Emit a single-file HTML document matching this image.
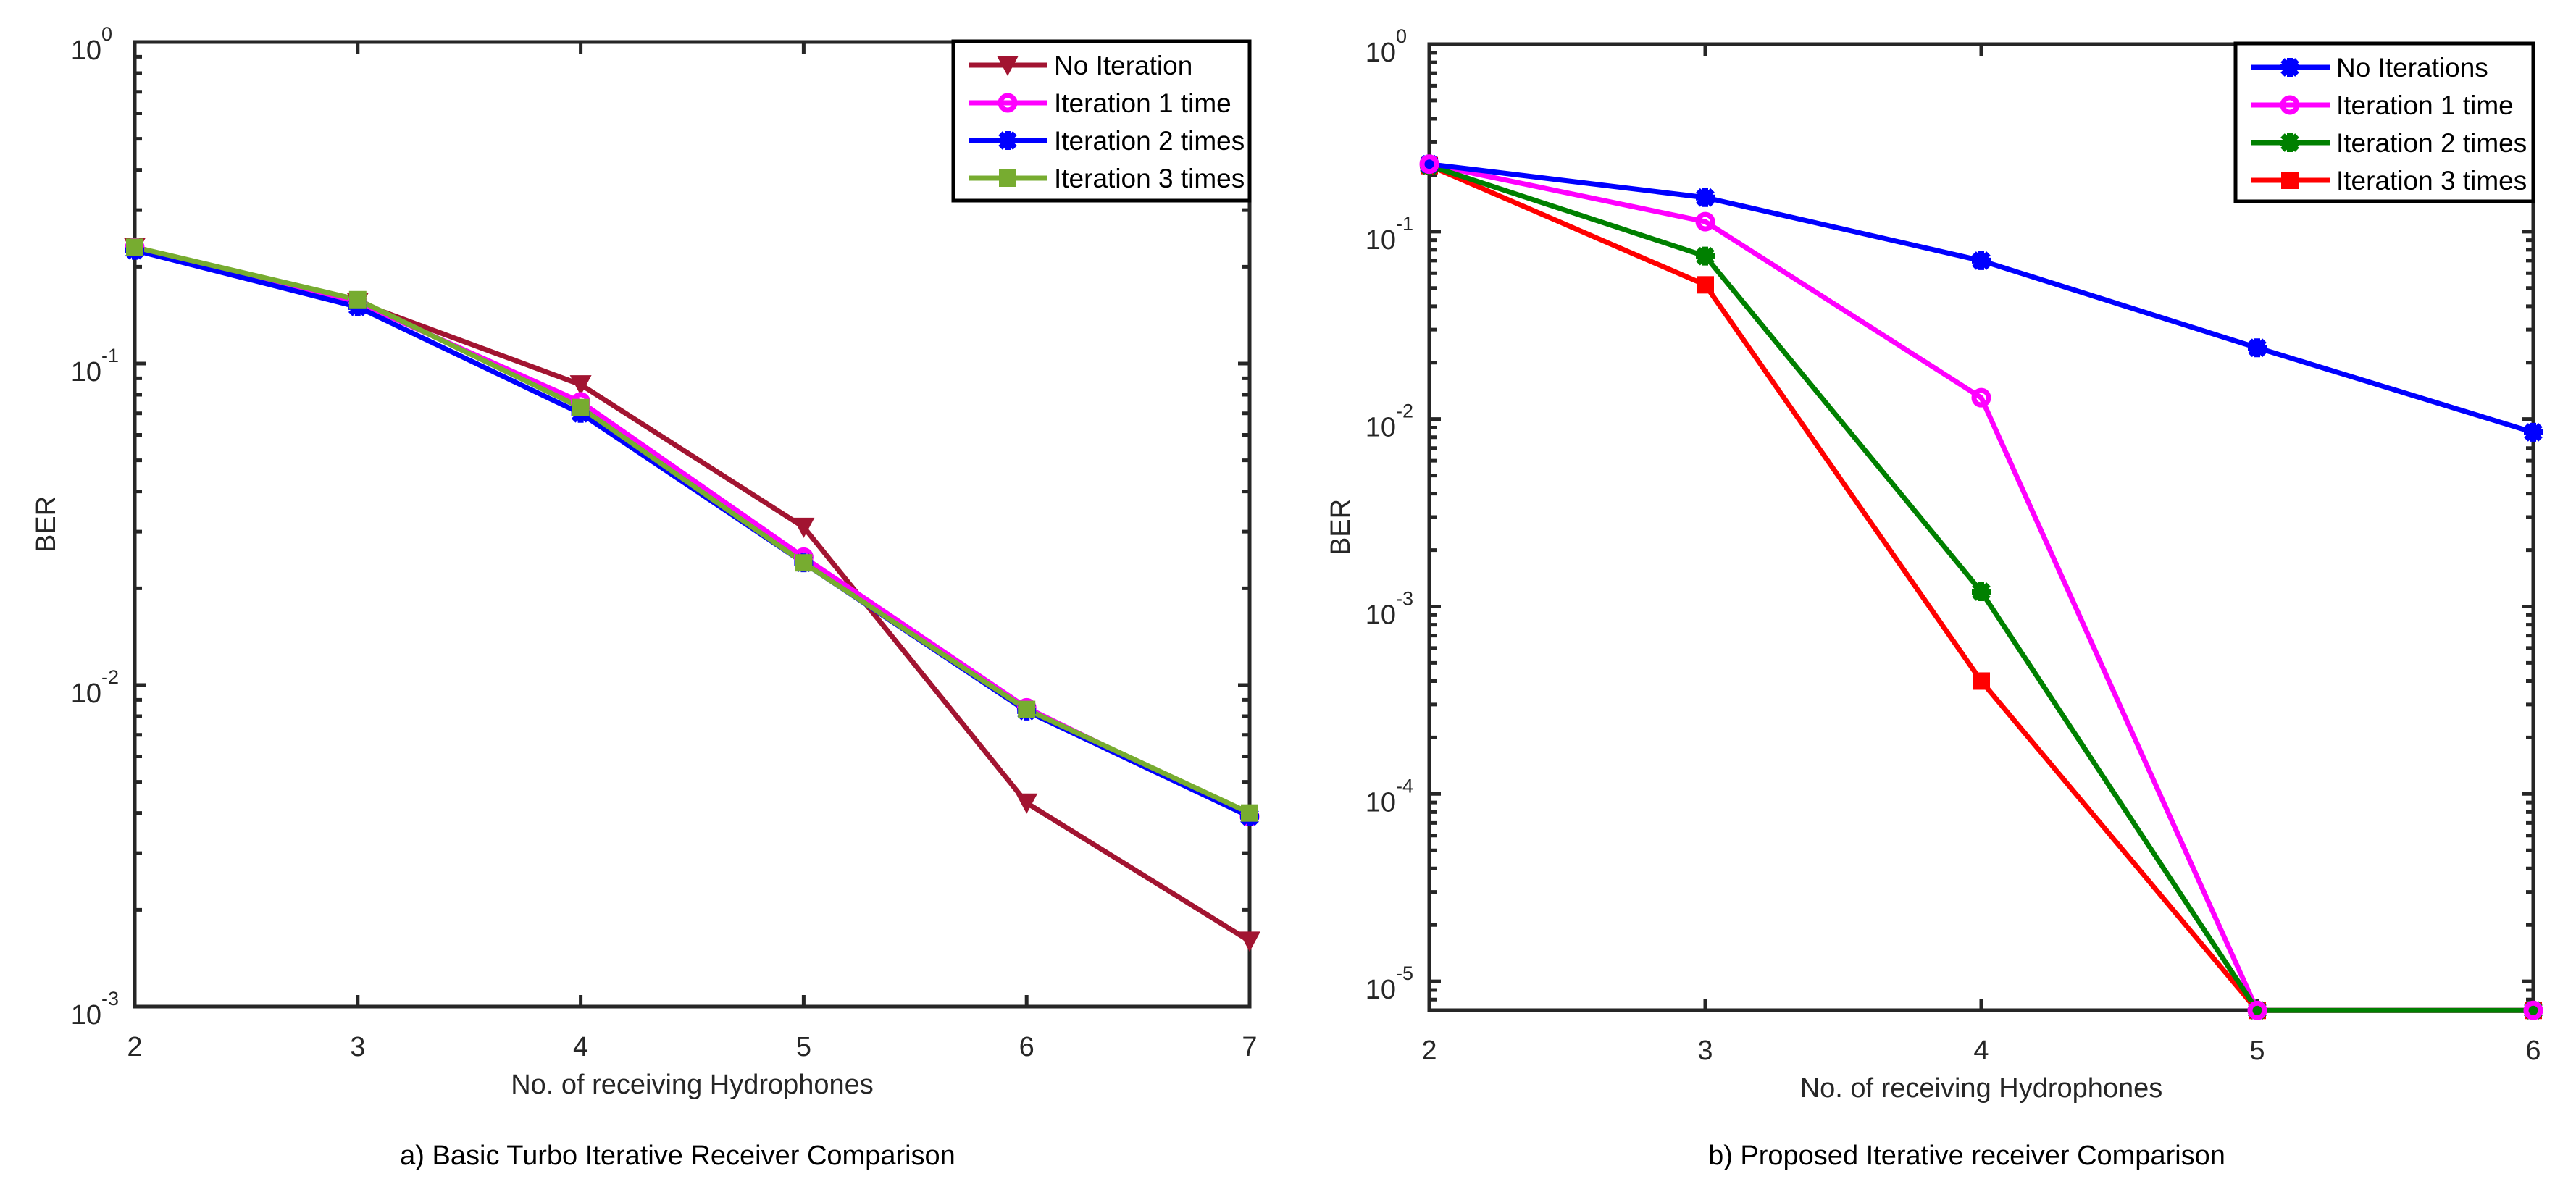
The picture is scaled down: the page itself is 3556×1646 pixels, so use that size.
<!DOCTYPE html>
<html><head><meta charset="utf-8"><style>
html,body{margin:0;padding:0;background:#fff;}
svg{display:block;font-family:"Liberation Sans",Arial,sans-serif;}
</style></head><body>
<svg id="fig" width="3556" height="1646" viewBox="0 0 3556 1646" xmlns="http://www.w3.org/2000/svg"></svg>
<script>
// Chart A data
const xCatsA = [2,3,4,5,6,7];
const noIterA = [0.23,0.155,0.086,0.031,0.0043,0.0016];
const iter1A = [0.23,0.155,0.076,0.025,0.0085,0.0039];
const iter2A = [0.225,0.15,0.070,0.024,0.0083,0.0039];
const iter3A = [0.23,0.158,0.073,0.024,0.0084,0.0040];
const legendA = ["No Iteration","Iteration 1 time","Iteration 2 times","Iteration 3 times"];
const yDecadesA = [0,-1,-2,-3];
// Chart B data
const xCatsB = [2,3,4,5,6];
const noIterB = [0.229,0.152,0.070,0.024,0.0085];
const iter1B = [0.229,0.113,0.013,0.000007,0.000007];
const iter2B = [0.225,0.074,0.0012,0.000007,0.000007];
const iter3B = [0.225,0.052,0.0004,0.000007,0.000007];
const legendB = ["No Iterations","Iteration 1 time","Iteration 2 times","Iteration 3 times"];
const yDecadesB = [0,-1,-2,-3,-4,-5];

const NS="http://www.w3.org/2000/svg";
const svg=document.getElementById('fig');
function mk(tag,attrs,parent){const e=document.createElementNS(NS,tag);for(const k in attrs)e.setAttribute(k,attrs[k]);(parent||svg).appendChild(e);return e;}

function marker(g,type,cx,cy,color){
  if(type==='tri'){mk('polygon',{points:`${cx-15},${cy-13} ${cx+15},${cy-13} ${cx},${cy+15}`,fill:color},g);}
  else if(type==='circ'){mk('circle',{cx,cy,r:10,fill:'none',stroke:color,'stroke-width':7},g);}
  else if(type==='sq'){mk('rect',{x:cx-12,y:cy-12,width:24,height:24,fill:color},g);}
  else if(type==='ast'){const r=13;
    mk('path',{d:`M${cx-r},${cy}H${cx+r}M${cx},${cy-r}V${cy+r}M${cx-10},${cy-10}L${cx+10},${cy+10}M${cx-10},${cy+10}L${cx+10},${cy-10}`,stroke:color,'stroke-width':8,fill:'none'},g);}
}

function chart(cfg){
  const {L,R,T,B,xmin,xmax,lmin,lmax,cats,series,legend,decades,name,caption,leg,lineOrder,markOrder}=cfg;
  const g=mk('g',{});
  
  
  const X=v=>L+(v-xmin)/(xmax-xmin)*(R-L);
  const Y=v=>T+(lmax-Math.log10(v))/(lmax-lmin)*(B-T);
  const ax=mk('g',{stroke:'#262626','stroke-width':5,fill:'none'},g);
  
  
  mk('rect',{x:L,y:T,width:R-L,height:B-T},ax);
  cats.forEach(c=>{const x=X(c);
    mk('path',{d:`M${x},${B}V${B-16}M${x},${T}V${T+16}`},ax);
    const t=mk('text',{x,y:B+68,'text-anchor':'middle','font-size':38,fill:'#262626',stroke:'none'},g);
    t.textContent=c;
    
    
  });
  for(let d=Math.floor(lmin);d<=lmax;d++){
    for(let m=1;m<10;m++){const v=m*Math.pow(10,d);const lv=Math.log10(v);
      if(lv<lmin-1e-9||lv>lmax+1e-9)continue;const y=Y(v);const len=m===1?16:10;
      mk('path',{d:`M${L},${y}H${L+len}M${R},${y}H${R-len}`},ax);}
  }
  decades.forEach(d=>{const y=Y(Math.pow(10,d));
    const t=mk('text',{x:L-46,y:y+24,'text-anchor':'end','font-size':38,fill:'#262626'},g);
    t.textContent='10';
    
    
    const s=mk('text',{x:L-46,y:y-2,'text-anchor':'start','font-size':27,fill:'#262626'},g);
    s.textContent=String(d===0?0:d);
    
    
  });
  lineOrder.forEach(i=>{const s=series[i];
    const sg=mk('g',{},g);
    
    
    const pts=s.vals.map((v,k)=>[X(cats[k]),Y(v)]);
    mk('polyline',{points:pts.map(p=>p.join(',')).join(' '),fill:'none',stroke:s.color,'stroke-width':7,'stroke-linejoin':'round'},sg);
  });
  markOrder.forEach(i=>{const s=series[i];
    const mg=mk('g',{},g);
    
    
    s.vals.forEach((v,k)=>marker(mg,s.m,X(cats[k]),Y(v),s.color));
  });
  const lg=mk('g',{},g);
  
  
  mk('rect',{x:leg.x,y:leg.y,width:leg.w,height:leg.h,fill:'#fff',stroke:'#000','stroke-width':5},lg);
  series.forEach((s,i)=>{const y=leg.y+33+i*52;
    const e=mk('g',{},lg);
    
    
    mk('line',{x1:leg.x+21,x2:leg.x+130,y1:y,y2:y,stroke:s.color,'stroke-width':7},e);
    marker(e,s.m,leg.x+75,y,s.color);
    const t=mk('text',{x:leg.x+139,y:y+13,'font-size':37,fill:'#000'},e);
    t.textContent=legend[i];
  });
  const xt=mk('text',{x:(L+R)/2,y:B+120,'text-anchor':'middle','font-size':38,fill:'#262626'},g);
  xt.textContent='No. of receiving Hydrophones';
  
  
  const yc=(T+B)/2;
  const yt=mk('text',{x:L-110,y:yc,'text-anchor':'middle','font-size':38,fill:'#262626',transform:`rotate(-90 ${L-110} ${yc})`},g);
  yt.textContent='BER';
  
  
  const cp=mk('text',{x:(L+R)/2-20,y:1608,'text-anchor':'middle','font-size':38,fill:'#000'},g);
  cp.textContent=caption;
  
  
}

chart({L:186,R:1725,T:58,B:1390,xmin:2,xmax:7,lmin:-3,lmax:0,cats:xCatsA,decades:yDecadesA,legend:legendA,
  name:'chart-a',caption:'a) Basic Turbo Iterative Receiver Comparison',
  leg:{x:1316,y:57,w:409,h:220},lineOrder:[0,1,2,3],markOrder:[0,1,2,3],
  series:[{name:'series-no-iteration',vals:noIterA,color:'#a21431',m:'tri'},
          {name:'series-iteration-1',vals:iter1A,color:'#ff00ff',m:'circ'},
          {name:'series-iteration-2',vals:iter2A,color:'#0000ff',m:'ast'},
          {name:'series-iteration-3',vals:iter3A,color:'#77ac30',m:'sq'}]});
chart({L:1973,R:3497,T:61,B:1395,xmin:2,xmax:6,lmin:-5.154,lmax:0,cats:xCatsB,decades:yDecadesB,legend:legendB,
  name:'chart-b',caption:'b) Proposed Iterative receiver Comparison',
  leg:{x:3086,y:60,w:411,h:218},lineOrder:[3,1,2,0],markOrder:[3,2,0,1],
  series:[{name:'series-no-iterations',vals:noIterB,color:'#0000ff',m:'ast'},
          {name:'series-iteration-1',vals:iter1B,color:'#ff00ff',m:'circ'},
          {name:'series-iteration-2',vals:iter2B,color:'#008000',m:'ast'},
          {name:'series-iteration-3',vals:iter3B,color:'#ff0000',m:'sq'}]});
</script>
</body></html>
